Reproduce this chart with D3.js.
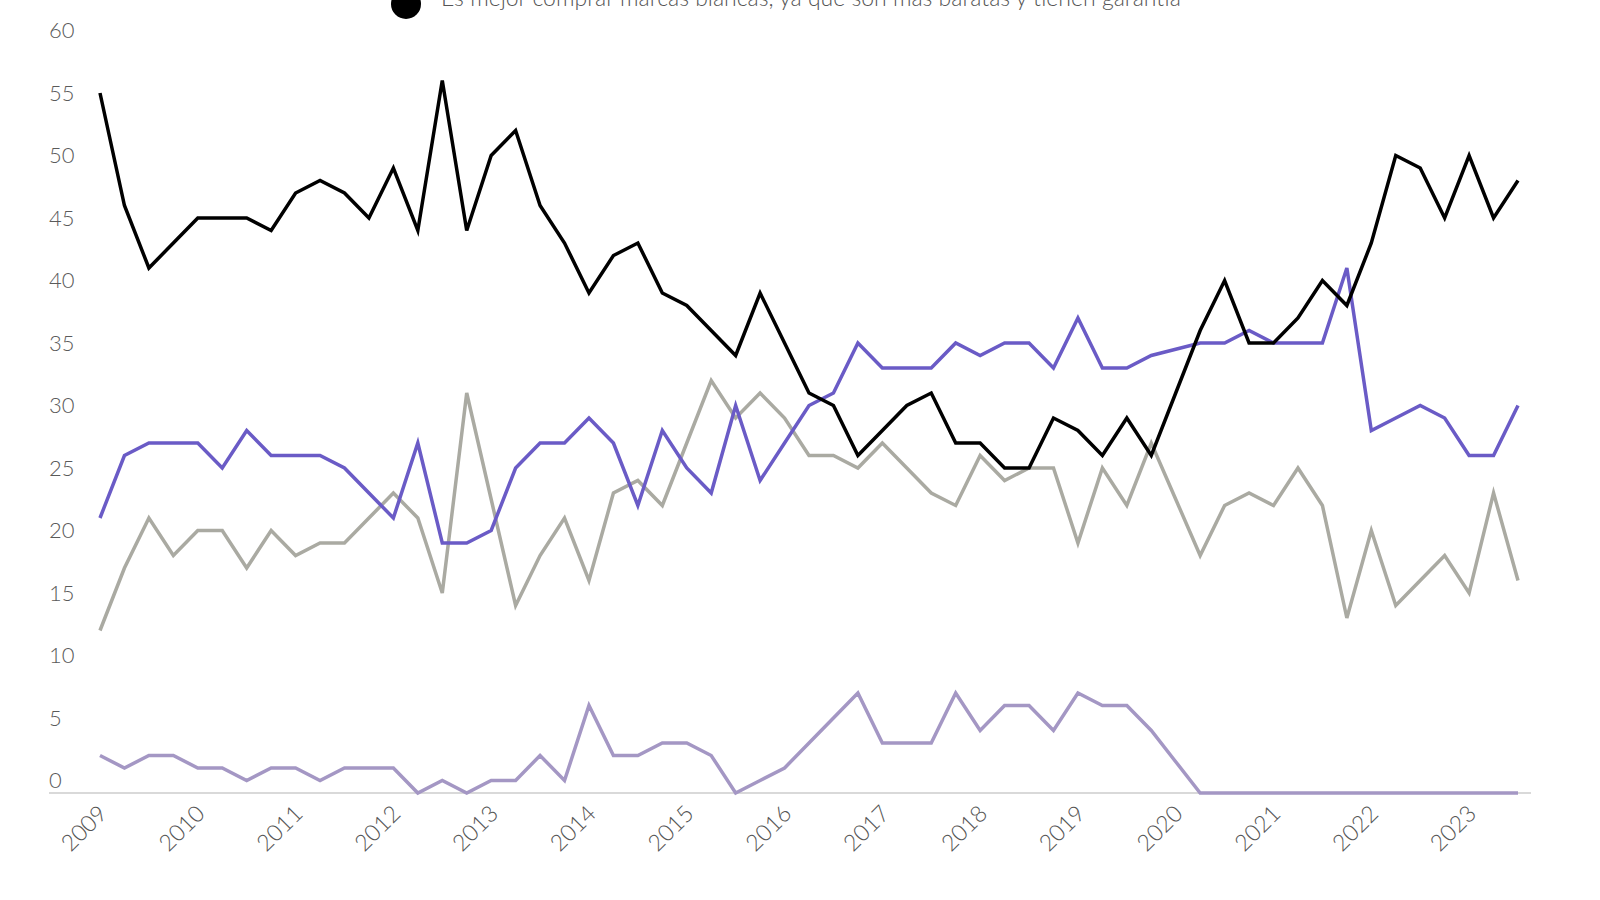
<!DOCTYPE html>
<html>
<head>
<meta charset="utf-8">
<script src="https://cdn.jsdelivr.net/npm/d3@7"></script>
<style>
    body { margin: 0; background: #fff; }
    svg { display: block; font-family: Lato, 'Open Sans', sans-serif; }
</style>
</head>
<body>
<div id="chart"></div>
<script>
// quarterly periods, 2009 T1 .. 2023 T3
const PERIODS = [
    '2009T1', '2009T2', '2009T3', '2009T4',
    '2010T1', '2010T2', '2010T3', '2010T4',
    '2011T1', '2011T2', '2011T3', '2011T4',
    '2012T1', '2012T2', '2012T3', '2012T4',
    '2013T1', '2013T2', '2013T3', '2013T4',
    '2014T1', '2014T2', '2014T3', '2014T4',
    '2015T1', '2015T2', '2015T3', '2015T4',
    '2016T1', '2016T2', '2016T3', '2016T4',
    '2017T1', '2017T2', '2017T3', '2017T4',
    '2018T1', '2018T2', '2018T3', '2018T4',
    '2019T1', '2019T2', '2019T3', '2019T4',
    '2020T1', '2020T2', '2020T3', '2020T4',
    '2021T1', '2021T2', '2021T3', '2021T4',
    '2022T1', '2022T2', '2022T3', '2022T4',
    '2023T1', '2023T2', '2023T3'
];

const YEAR_TICKS = ['2009', '2010', '2011', '2012', '2013', '2014', '2015', '2016',
    '2017', '2018', '2019', '2020', '2021', '2022', '2023'];
const Y_TICKS = [0, 5, 10, 15, 20, 25, 30, 35, 40, 45, 50, 55, 60];

const MARCAS_BLANCAS = [56, 47, 42, 44, 46, 46, 46, 45, 48, 49, 48, 46, 50, 45, 57, 45,
    51, 53, 47, 44, 40, 43, 44, 40, 39, 37, 35, 40, 36, 32, 31, 27, 29, 31, 32, 28, 28,
    26, 26, 30, 29, 27, 30, 27, 32, 37, 41, 36, 36, 38, 41, 39, 44, 51, 50, 46, 51, 46, 49];

const SERIE_MORADA = [22, 27, 28, 28, 28, 26, 29, 27, 27, 27, 26, 24, 22, 28, 20, 20,
    21, 26, 28, 28, 30, 28, 23, 29, 26, 24, 31, 25, 28, 31, 32, 36, 34, 34, 34, 36, 35,
    36, 36, 34, 38, 34, 34, 35, 35.5, 36, 36, 37, 36, 36, 36, 42, 29, 30, 31, 30, 27, 27, 31];

const SERIE_GRIS = [13, 18, 22, 19, 21, 21, 18, 21, 19, 20, 20, 22, 24, 22, 16, 32,
    23.5, 15, 19, 22, 17, 24, 25, 23, 28, 33, 30, 32, 30, 27, 27, 26, 28, 26, 24, 23, 27,
    25, 26, 26, 20, 26, 23, 28, 23.5, 19, 23, 24, 23, 26, 23, 14, 21, 15, 17, 19, 16, 24, 17];

const SERIE_LILA = [3, 2, 3, 3, 2, 2, 1, 2, 2, 1, 2, 2, 2, 0, 1, 0,
    1, 1, 3, 1, 7, 3, 3, 4, 4, 3, 0, 1, 2, 4, 6, 8, 4, 4, 4, 8, 5,
    7, 7, 5, 8, 7, 7, 5, 2.5, 0, 0, 0, 0, 0, 0, 0, 0, 0, 0, 0, 0, 0, 0];

const LEGEND_LABEL = 'Es mejor comprar marcas blancas, ya que son más baratas y tienen garantía';

const initChart = () => {
    const width = 1600;
    const height = 900;

    const svg = d3
        .select('#chart')
        .append('svg')
        .attr('width', width)
        .attr('height', height);

    const xScale = d3.scalePoint().domain(PERIODS).range([100, 1518]);
    const yScale = d3.scaleLinear().domain([0, 60]).range([793, 43]);

    // baseline at zero
    svg.append('line')
        .attr('x1', 49)
        .attr('x2', 1531)
        .attr('y1', yScale(0))
        .attr('y2', yScale(0))
        .attr('stroke', '#d9d9d9')
        .attr('stroke-width', 2);

    // y axis labels sit above their gridline
    const yAxis = d3.axisRight(yScale).tickValues(Y_TICKS).tickSize(0).tickPadding(0);
    const yG = svg.append('g').attr('transform', 'translate(49,0)').call(yAxis);
    yG.select('.domain').remove();
    yG.selectAll('text')
        .attr('y', -13)
        .attr('dy', '0.35em')
        .attr('fill', '#5a5a5a')
        .style('font-size', '22px')
        .style('font-weight', 300)
        .style('font-family', 'Lato, sans-serif');

    // x axis, one label per year, rotated
    const xAxis = d3
        .axisBottom(xScale)
        .tickValues(YEAR_TICKS.map((y) => y + 'T1'))
        .tickFormat((p) => p.slice(0, 4))
        .tickSize(0);
    const xG = svg.append('g').attr('transform', 'translate(0,' + yScale(0) + ')').call(xAxis);
    xG.select('.domain').remove();
    xG.selectAll('text')
        .attr('x', 0)
        .attr('y', 0)
        .attr('dy', 0)
        .attr('transform', 'translate(8,22) rotate(-45)')
        .style('text-anchor', 'end')
        .attr('fill', '#555')
        .style('font-size', '23px')
        .style('font-weight', 300)
        .style('font-family', 'Lato, sans-serif');

    const series = [
        { values: SERIE_LILA, color: '#a497c4' },
        { values: SERIE_GRIS, color: '#aaaaa2' },
        { values: SERIE_MORADA, color: '#6a5bc6' },
        { values: MARCAS_BLANCAS, color: '#000000' }
    ];

    const line = d3
        .line()
        .x((d, i) => xScale(PERIODS[i]))
        .y((d) => yScale(d));

    svg.selectAll('path.serie')
        .data(series)
        .enter()
        .append('path')
        .attr('class', 'serie')
        .attr('d', (s) => line(s.values))
        .attr('fill', 'none')
        .attr('stroke', (s) => s.color)
        .attr('stroke-width', 3.5)
        .attr('stroke-linejoin', 'miter');

    // legend (only the last row falls inside the picture, as in the original)
    const legend = svg.append('g').attr('transform', 'translate(406,4)');
    legend.append('circle').attr('r', 15).attr('fill', '#000');
    legend.append('text')
        .attr('x', 35)
        .attr('y', 2)
        .attr('fill', '#555')
        .style('font-size', '23px')
        .style('font-weight', 300)
        .text(LEGEND_LABEL);
};

document.addEventListener('DOMContentLoaded', initChart);
</script>
</body>
</html>
